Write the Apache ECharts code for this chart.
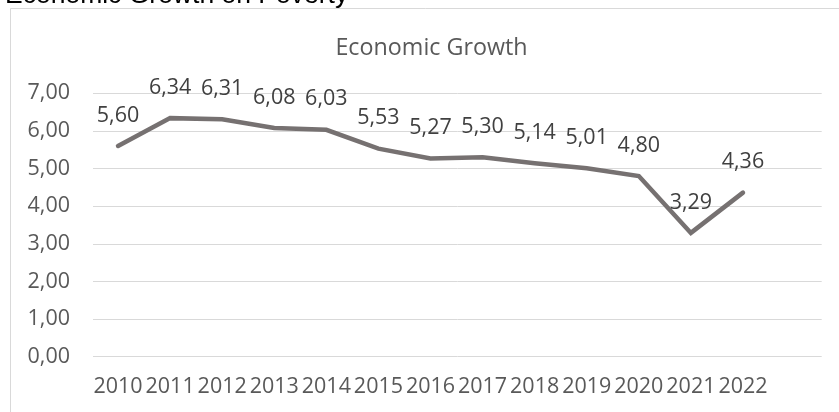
<!DOCTYPE html>
<html>
<head>
<meta charset="utf-8">
<script src="https://cdn.jsdelivr.net/npm/echarts@6/dist/echarts.min.js"></script>
<style>
html,body{margin:0;padding:0;background:#fff;}
#c{width:839px;height:412px;}
</style>
</head>
<body>
<div id="c"></div>
<script>
const years = ['2010','2011','2012','2013','2014','2015','2016','2017','2018','2019','2020','2021','2022'];
const growth = [5.60, 6.34, 6.31, 6.08, 6.03, 5.53, 5.27, 5.30, 5.14, 5.01, 4.80, 3.29, 4.36];
const yMin = 0, yMax = 7, yStep = 1;
const pageTitle = 'Economic Growth on Poverty';
const chartTitle = 'Economic Growth';

const fam = '"Open Sans", sans-serif';
const chart = echarts.init(document.getElementById('c'), null, {renderer: 'canvas'});
chart.setOption({
  animation: false,
  backgroundColor: '#ffffff',
  graphic: [
    {type: 'rect', shape: {x: 10.5, y: 8.5, width: 900, height: 600}, style: {fill: 'none', stroke: '#d9d9d9', lineWidth: 1}, z: -10},
    {type: 'text', left: 5, top: -17.5, style: {text: pageTitle, font: '26.5px "Liberation Sans", Arial, sans-serif', fill: '#000000'}}
  ],
  title: {
    text: chartTitle, left: 426.5, top: 32, textAlign: 'center',
    textStyle: {fontFamily: fam, fontSize: 23.3, fontWeight: 'normal', color: '#595959'}
  },
  grid: [
    {left: 93, right: 17.3, top: 93.3, bottom: 55.3, containLabel: false},
    {left: 92, width: 677, top: 93.3, bottom: 55.3, containLabel: false}
  ],
  xAxis: [
    {gridIndex: 0, type: 'category', data: years, show: false},
    {gridIndex: 1, type: 'category', data: years, boundaryGap: true,
     axisLine: {show: false}, axisTick: {show: false},
     axisLabel: {color: '#595959', fontFamily: fam, fontSize: 21.5, margin: 19, interval: 0}}
  ],
  yAxis: [
    {gridIndex: 0, type: 'value', min: yMin, max: yMax, interval: yStep,
     axisLine: {show: false}, axisTick: {show: false},
     splitLine: {lineStyle: {color: '#d9d9d9', width: 1}},
     axisLabel: {color: '#595959', fontFamily: fam, fontSize: 21.5, margin: 23,
       formatter: v => v.toFixed(2).replace('.', ',')}},
    {gridIndex: 1, type: 'value', min: yMin, max: yMax, interval: yStep, show: false, splitLine: {show: false}}
  ],
  series: [{
    type: 'line', xAxisIndex: 1, yAxisIndex: 1, data: growth,
    symbol: 'circle', symbolSize: 1,
    itemStyle: {color: '#767171'},
    lineStyle: {color: '#767171', width: 4.5, cap: 'round', join: 'miter'},
    label: {show: true, position: 'top', distance: 19, color: '#404040', fontFamily: fam, fontSize: 21.5,
      formatter: p => p.value.toFixed(2).replace('.', ',')}
  }]
});
</script>
</body>
</html>
